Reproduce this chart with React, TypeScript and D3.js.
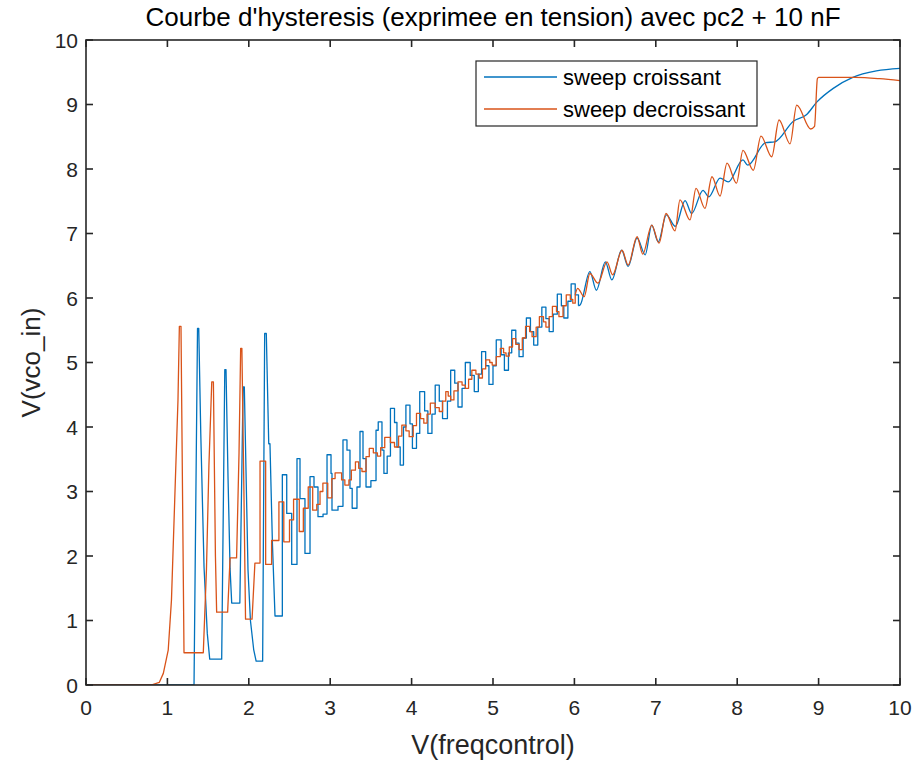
import React from 'react';
import * as d3 from 'd3';

const W = 917;
const H = 766;
const PLOT = { left: 86, right: 900, top: 40, bottom: 685 };

const xTicks = [0, 1, 2, 3, 4, 5, 6, 7, 8, 9, 10];
const yTicks = [0, 1, 2, 3, 4, 5, 6, 7, 8, 9, 10];

const titleText = "Courbe d'hysteresis (exprimee en tension) avec pc2 + 10 nF";
const xLabelText = 'V(freqcontrol)';
const yLabelText = 'V(vco_in)';
const seriesNames = ['sweep croissant', 'sweep decroissant'];

// ---- sweep croissant (blue) ----
const blueEarly: [number, number][] = [
  [0, 0], [1.327, 0], [1.37, 5.53], [1.385, 5.53], [1.41, 3.9], [1.45, 1.83], [1.49, 0.8], [1.52, 0.4],
  [1.667, 0.4], [1.705, 4.89], [1.72, 4.89], [1.745, 3.2], [1.77, 1.8], [1.79, 1.27], [1.89, 1.27],
  [1.93, 4.62], [1.945, 4.62], [1.99, 1.79], [2.02, 1.0], [2.06, 0.55], [2.09, 0.37], [2.17, 0.37],
  [2.195, 5.45], [2.215, 5.45], [2.245, 3.74], [2.26, 3.74], [2.29, 2.2], [2.322, 1.07],
];
const blueSteps: [number, number][] = [
  [2.322, 1.07], [2.412, 3.26], [2.466, 2.66], [2.527, 1.87], [2.592, 3.51], [2.629, 2.89], [2.69, 2.04],
  [2.752, 3.23], [2.801, 3.07], [2.85, 2.61], [2.912, 2.65], [2.961, 3.57], [3.01, 3.28], [3.022, 2.71],
  [3.096, 2.77], [3.157, 3.8], [3.206, 3.64], [3.243, 3.05], [3.27, 2.74], [3.329, 3.07], [3.366, 3.93],
  [3.403, 3.51], [3.44, 3.07], [3.5, 3.17], [3.563, 3.95], [3.59, 4.08], [3.636, 3.64], [3.66, 3.28],
  [3.7, 3.55], [3.74, 4.29], [3.79, 4.07], [3.82, 3.69], [3.86, 3.41], [3.9, 4.0], [3.93, 4.34],
  [3.98, 4.05], [4.01, 3.67], [4.06, 3.9], [4.1, 4.55], [4.16, 4.25], [4.2, 3.9], [4.25, 4.2],
  [4.29, 4.65], [4.34, 4.4], [4.38, 4.13], [4.44, 4.4], [4.48, 4.88], [4.53, 4.68], [4.57, 4.31],
  [4.62, 4.6], [4.66, 5.0], [4.72, 4.8], [4.77, 4.55], [4.82, 4.82], [4.86, 5.17], [4.91, 4.95],
  [4.95, 4.66], [5.0, 4.95], [5.04, 5.35], [5.1, 5.12], [5.14, 4.88], [5.19, 5.15], [5.23, 5.5],
  [5.28, 5.3], [5.32, 5.09], [5.37, 5.38], [5.41, 5.69], [5.46, 5.48], [5.5, 5.27], [5.55, 5.55],
  [5.6, 5.86], [5.65, 5.68], [5.69, 5.48], [5.74, 5.75], [5.79, 6.06], [5.84, 5.88], [5.87, 5.69],
  [5.92, 5.95], [5.96, 6.22], [6.01, 6.05], [6.05, 5.88],
];
const blueSmooth: [number, number][] = [
  [6.07, 5.89], [6.19, 6.41], [6.27, 6.12], [6.38, 6.56], [6.46, 6.28], [6.58, 6.74], [6.66, 6.49],
  [6.77, 6.93], [6.87, 6.67], [6.95, 7.13], [7.03, 6.87], [7.13, 7.29], [7.24, 7.11], [7.36, 7.51],
  [7.44, 7.31], [7.58, 7.67], [7.65, 7.57], [7.79, 7.86], [7.89, 7.8], [8.07, 8.14], [8.13, 8.06],
  [8.35, 8.41], [8.46, 8.42], [8.69, 8.74], [8.85, 8.84], [8.98, 9.04], [9.18, 9.25], [9.42, 9.42],
  [9.71, 9.52], [10.0, 9.56],
];

// ---- sweep decroissant (orange) ----
const orangeEarly: [number, number][] = [
  [0, 0], [0.8, 0], [0.9, 0.04], [0.95, 0.18], [1.01, 0.54], [1.05, 1.32], [1.09, 2.87], [1.13, 4.42],
  [1.147, 5.56], [1.167, 5.56], [1.204, 0.5], [1.441, 0.5], [1.48, 1.8], [1.51, 3.4], [1.545, 4.7],
  [1.565, 4.7], [1.59, 2.0], [1.605, 1.13], [1.74, 1.13], [1.77, 1.97], [1.85, 1.97], [1.88, 3.6],
  [1.9, 5.22], [1.915, 5.22], [1.94, 3.0], [1.96, 1.02], [2.04, 1.02], [2.075, 1.89], [2.138, 1.89],
];
const orangeSteps: [number, number][] = [
  [2.138, 3.47], [2.207, 1.87], [2.28, 2.24], [2.37, 2.84], [2.43, 2.22], [2.5, 2.56], [2.55, 2.88],
  [2.62, 2.38], [2.67, 2.74], [2.73, 3.07], [2.785, 2.71], [2.835, 2.8], [2.875, 3.0], [2.91, 3.13],
  [2.97, 2.9], [3.02, 3.2], [3.06, 3.29], [3.14, 3.18], [3.18, 3.1], [3.23, 3.18], [3.26, 3.33],
  [3.31, 3.46], [3.35, 3.36], [3.39, 3.31], [3.44, 3.54], [3.48, 3.67], [3.53, 3.6], [3.58, 3.55],
  [3.62, 3.68], [3.67, 3.84], [3.74, 3.76], [3.79, 3.69], [3.84, 3.86], [3.88, 4.03], [3.93, 3.94],
  [3.97, 3.85], [4.02, 4.02], [4.06, 4.21], [4.11, 4.13], [4.15, 4.06], [4.19, 4.2], [4.23, 4.37],
  [4.29, 4.3], [4.34, 4.24], [4.38, 4.4], [4.42, 4.55], [4.45, 4.48], [4.48, 4.42], [4.52, 4.56],
  [4.57, 4.7], [4.62, 4.65], [4.66, 4.6], [4.7, 4.74], [4.74, 4.88], [4.79, 4.82], [4.83, 4.76],
  [4.87, 4.9], [4.91, 5.04], [4.96, 5.0], [4.99, 4.96], [5.04, 5.09], [5.09, 5.22], [5.13, 5.15],
  [5.16, 5.1], [5.2, 5.24], [5.24, 5.37], [5.28, 5.28], [5.32, 5.2], [5.36, 5.38], [5.4, 5.56],
  [5.45, 5.48], [5.48, 5.4], [5.53, 5.55], [5.57, 5.71], [5.62, 5.63], [5.65, 5.55], [5.69, 5.71],
  [5.73, 5.87], [5.78, 5.79], [5.81, 5.71], [5.86, 5.88], [5.9, 6.05], [5.95, 5.98], [5.98, 5.92],
  [6.01, 6.05],
];
const orangeSmooth: [number, number][] = [
  [6.04, 6.15], [6.12, 6.02], [6.19, 6.38], [6.29, 6.23], [6.4, 6.56], [6.47, 6.36], [6.585, 6.74],
  [6.66, 6.51], [6.77, 6.95], [6.84, 6.68], [6.95, 7.13], [7.04, 6.85], [7.125, 7.31], [7.236, 7.04],
  [7.297, 7.52], [7.42, 7.21], [7.494, 7.7], [7.604, 7.39], [7.69, 7.88], [7.789, 7.58], [7.875, 8.09],
  [7.991, 7.78], [8.071, 8.29], [8.198, 7.98], [8.292, 8.51], [8.424, 8.19], [8.514, 8.76], [8.649, 8.39],
  [8.731, 8.99], [8.903, 8.62], [8.95, 8.66], [8.985, 9.4], [9.0, 9.42], [9.45, 9.42], [9.75, 9.4],
  [10.0, 9.37],
];

const BLUE = '#0072BD';
const ORANGE = '#D95319';
const AXIS = '#262626';
const FONT = 'Liberation Sans, Arial, Helvetica, sans-serif';

function expandSteps(early: [number, number][], steps: [number, number][]) {
  const pts: [number, number][] = early.slice();
  let prev = early[early.length - 1][1];
  steps.forEach(([x, y]) => {
    pts.push([x, prev]);
    pts.push([x, y]);
    prev = y;
  });
  return pts;
}

export default function App() {
  const x = d3.scaleLinear().domain([0, 10]).range([PLOT.left, PLOT.right]);
  const y = d3.scaleLinear().domain([0, 10]).range([PLOT.bottom, PLOT.top]);
  const lin = d3.line<[number, number]>().x((d) => x(d[0])).y((d) => y(d[1]));
  const smooth = d3
    .line<[number, number]>()
    .x((d) => x(d[0]))
    .y((d) => y(d[1]))
    .curve(d3.curveMonotoneX);

  const blueA = expandSteps(blueEarly, blueSteps);
  const blueB: [number, number][] = [blueA[blueA.length - 1], ...blueSmooth];
  const orangeA = expandSteps(orangeEarly, orangeSteps);
  const orangeB: [number, number][] = [orangeA[orangeA.length - 1], ...orangeSmooth];

  const tickLen = 7;
  const lw = 1.3;

  return (
    <svg
      width={W}
      height={H}
      style={{ position: 'absolute', left: 0, top: 0, background: '#fff' }}
      fontFamily={FONT}
    >
      <rect x={0} y={0} width={W} height={H} fill="#fff" />
      <defs>
        <clipPath id="clip">
          <rect x={PLOT.left} y={PLOT.top - 1} width={PLOT.right - PLOT.left} height={PLOT.bottom - PLOT.top + 1} />
        </clipPath>
      </defs>
      <g clipPath="url(#clip)">
        <path d={lin(blueA) || ''} fill="none" stroke={BLUE} strokeWidth={lw} strokeLinejoin="round" />
        <path d={smooth(blueB) || ''} fill="none" stroke={BLUE} strokeWidth={lw} strokeLinejoin="round" />
        <path d={lin(orangeA) || ''} fill="none" stroke={ORANGE} strokeWidth={lw} strokeLinejoin="round" />
        <path d={smooth(orangeB) || ''} fill="none" stroke={ORANGE} strokeWidth={lw} strokeLinejoin="round" />
      </g>

      {/* axes box */}
      <rect
        x={PLOT.left}
        y={PLOT.top}
        width={PLOT.right - PLOT.left}
        height={PLOT.bottom - PLOT.top}
        fill="none"
        stroke={AXIS}
        strokeWidth={1.6}
      />
      {xTicks.map((t) => (
        <g key={'xt' + t}>
          <line x1={x(t)} x2={x(t)} y1={PLOT.bottom} y2={PLOT.bottom - tickLen} stroke={AXIS} strokeWidth={1.6} />
          <line x1={x(t)} x2={x(t)} y1={PLOT.top} y2={PLOT.top + tickLen} stroke={AXIS} strokeWidth={1.6} />
          <text x={x(t)} y={PLOT.bottom + 30} textAnchor="middle" fontSize={21} fill={AXIS}>
            {t}
          </text>
        </g>
      ))}
      {yTicks.map((t) => (
        <g key={'yt' + t}>
          <line x1={PLOT.left} x2={PLOT.left + tickLen} y1={y(t)} y2={y(t)} stroke={AXIS} strokeWidth={1.6} />
          <line x1={PLOT.right} x2={PLOT.right - tickLen} y1={y(t)} y2={y(t)} stroke={AXIS} strokeWidth={1.6} />
          <text x={PLOT.left - 8} y={y(t) + 7.5} textAnchor="end" fontSize={21} fill={AXIS}>
            {t}
          </text>
        </g>
      ))}

      <text x={(PLOT.left + PLOT.right) / 2} y={26} textAnchor="middle" fontSize={26} fill="#000">
        {titleText}
      </text>
      <text x={(PLOT.left + PLOT.right) / 2} y={754} textAnchor="middle" fontSize={27} fill={AXIS}>
        {xLabelText}
      </text>
      <text
        transform={`translate(40, ${(PLOT.top + PLOT.bottom) / 2}) rotate(-90)`}
        textAnchor="middle"
        fontSize={26}
        fill={AXIS}
      >
        {yLabelText}
      </text>

      {/* legend */}
      <g>
        <rect x={476} y={61} width={281} height={65} fill="#fff" stroke={AXIS} strokeWidth={1.2} />
        <line x1={484} x2={557} y1={77} y2={77} stroke={BLUE} strokeWidth={lw} />
        <text x={563} y={84.5} fontSize={22} fill="#000">
          {seriesNames[0]}
        </text>
        <line x1={484} x2={557} y1={109} y2={109} stroke={ORANGE} strokeWidth={lw} />
        <text x={563} y={116.5} fontSize={22} fill="#000">
          {seriesNames[1]}
        </text>
      </g>
    </svg>
  );
}
